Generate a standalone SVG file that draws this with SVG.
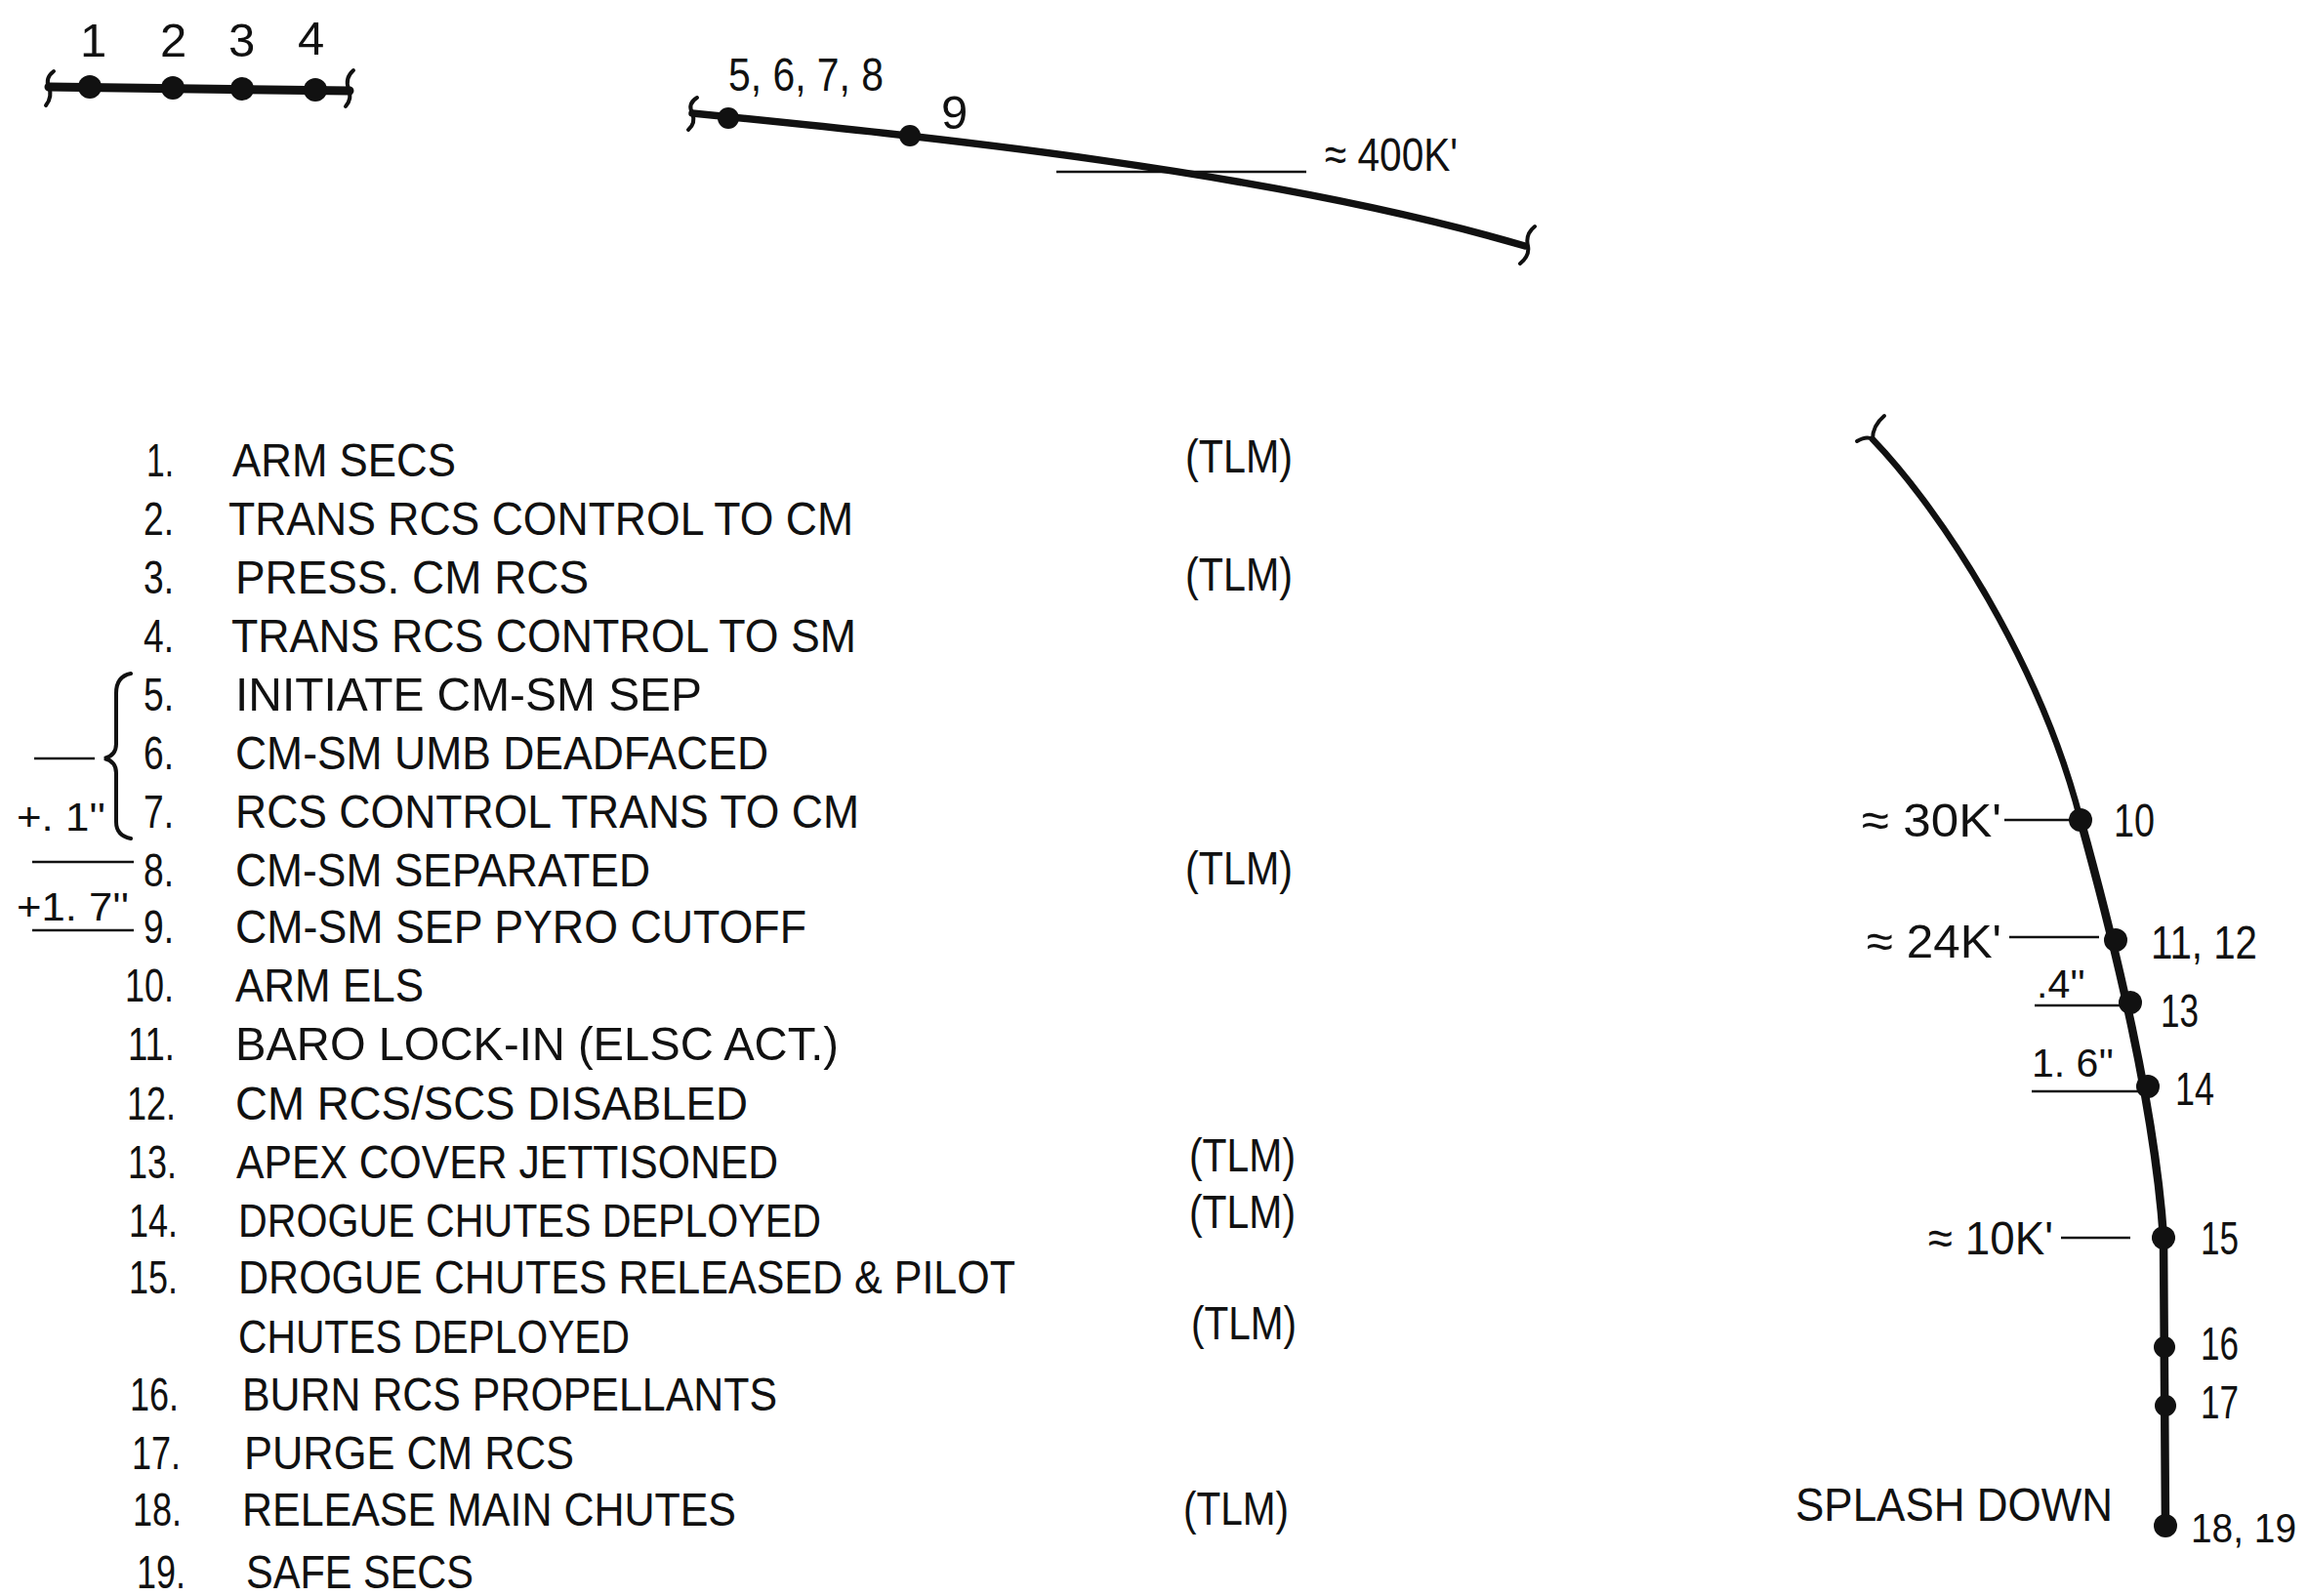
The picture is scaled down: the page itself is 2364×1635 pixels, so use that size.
<svg xmlns="http://www.w3.org/2000/svg" width="2364" height="1635" viewBox="0 0 2364 1635">
<defs>
<style>
.t{font-family:"Liberation Sans",Arial,sans-serif;font-size:49px;fill:#111}
.n{font-family:"Liberation Sans",Arial,sans-serif;font-size:49px;fill:#111;text-anchor:end}
.s{font-family:"Liberation Sans",Arial,sans-serif;font-size:49px;fill:#111}
.m{font-family:"Liberation Sans",Arial,sans-serif;font-size:41px;fill:#111}
.traj{fill:none;stroke:#111;stroke-linecap:round;stroke-linejoin:round}
.thin{fill:none;stroke:#111;stroke-width:2.5}
.brk{fill:none;stroke:#111;stroke-width:4;stroke-linecap:round}
.dot{fill:#111}
</style>
</defs>
<rect width="2364" height="1635" fill="#fff"/>

<g id="connectors">
  <!-- top-left scale -->
  <path class="traj" stroke-width="9" d="M50 89 L358 93"/>
  <path class="brk" d="M55 73 Q46 80 50 89 Q54 99 47 108"/>
  <path class="brk" d="M362 72 Q353 80 357 91 Q361 101 354 109"/>
  <!-- top arc -->
  <path class="traj" stroke-width="7.5" d="M709 116 C 950 140, 1300 175, 1562 252"/>
  <path class="brk" d="M714 100 Q704 106 709 116 Q713 126 705 133"/>
  <path class="brk" d="M1572 232 Q1562 240 1565 252 Q1567 262 1557 270"/>
  <line class="thin" x1="1082" y1="176" x2="1338" y2="176"/>
  <!-- right descent -->
  <path class="traj" stroke-width="6.5" d="M1918 450 C 1990 525, 2090 680, 2131 840"/>
  <path class="traj" stroke-width="8.5" d="M2131 840 C 2156 930, 2206 1120, 2216 1268 L 2218 1563"/>
  <path class="brk" d="M1902 452 Q1912 446 1918 450 Q1918 436 1930 426"/>
  <line class="thin" x1="2053" y1="840" x2="2123" y2="840"/>
  <line class="thin" x1="2058" y1="960" x2="2150" y2="960"/>
  <line class="thin" x1="2084" y1="1030" x2="2171" y2="1030"/>
  <line class="thin" x1="2081" y1="1118" x2="2190" y2="1118"/>
  <line class="thin" x1="2111" y1="1268" x2="2182" y2="1268"/>
  <!-- list margin marks -->
  <line class="thin" x1="35" y1="777" x2="97" y2="777"/>
  <path fill="none" stroke="#111" stroke-width="4" stroke-linecap="round" d="M134 690 Q119 693 119 710 L119 762 Q119 774 107 777 Q119 780 119 792 L119 842 Q119 856 134 859"/>
  <line class="thin" x1="33" y1="883" x2="137" y2="883"/>
  <line class="thin" x1="33" y1="953" x2="137" y2="953"/>
</g>

<g id="scale-1-4">
  <circle class="dot" cx="92" cy="89" r="12"/>
  <circle class="dot" cx="177" cy="90" r="12"/>
  <circle class="dot" cx="248" cy="91" r="12"/>
  <circle class="dot" cx="323" cy="92" r="12"/>
  <text class="t" x="82" y="58">1</text>
  <text class="t" x="164" y="58">2</text>
  <text class="t" x="234" y="58">3</text>
  <text class="t" x="305" y="56">4</text>
</g>

<g id="arc-5-9">
  <circle class="dot" cx="746" cy="121" r="11"/>
  <circle class="dot" cx="932" cy="139" r="11"/>
  <text class="t" x="746" y="93" textLength="159" lengthAdjust="spacingAndGlyphs">5, 6, 7, 8</text>
  <text class="t" x="964" y="132">9</text>
  <text class="s" x="1357" y="175" textLength="136" lengthAdjust="spacingAndGlyphs">≈ 400K'</text>
</g>

<g id="descent-10-19">
  <circle class="dot" cx="2131" cy="840" r="12"/>
  <circle class="dot" cx="2167" cy="963" r="12"/>
  <circle class="dot" cx="2182" cy="1027" r="12"/>
  <circle class="dot" cx="2200" cy="1113" r="12"/>
  <circle class="dot" cx="2216" cy="1268" r="12"/>
  <circle class="dot" cx="2217" cy="1380" r="11"/>
  <circle class="dot" cx="2218" cy="1440" r="11"/>
  <circle class="dot" cx="2218" cy="1563" r="12"/>
  <text class="s" x="1907" y="857" textLength="143" lengthAdjust="spacingAndGlyphs">≈ 30K'</text>
  <text class="s" x="2165" y="857" textLength="42" lengthAdjust="spacingAndGlyphs">10</text>
  <text class="s" x="1912" y="981" textLength="138" lengthAdjust="spacingAndGlyphs">≈ 24K'</text>
  <text class="s" x="2203" y="982" textLength="109" lengthAdjust="spacingAndGlyphs">11, 12</text>
  <text class="m" x="2086" y="1022">.4''</text>
  <text class="s" x="2213" y="1052" textLength="39" lengthAdjust="spacingAndGlyphs">13</text>
  <text class="m" x="2081" y="1103">1. 6''</text>
  <text class="s" x="2228" y="1132" textLength="40" lengthAdjust="spacingAndGlyphs">14</text>
  <text class="s" x="1975" y="1285" textLength="128" lengthAdjust="spacingAndGlyphs">≈ 10K'</text>
  <text class="s" x="2254" y="1285" textLength="39" lengthAdjust="spacingAndGlyphs">15</text>
  <text class="s" x="2254" y="1393" textLength="39" lengthAdjust="spacingAndGlyphs">16</text>
  <text class="s" x="2254" y="1453" textLength="39" lengthAdjust="spacingAndGlyphs">17</text>
  <text class="s" x="1839" y="1558" textLength="325" lengthAdjust="spacingAndGlyphs">SPLASH DOWN</text>
  <text class="s" style="font-size:42px" x="2244" y="1580" textLength="108" lengthAdjust="spacingAndGlyphs">18, 19</text>
</g>

<g id="margin-notes">
  <text class="m" x="17" y="851" textLength="91" lengthAdjust="spacingAndGlyphs">+. 1''</text>
  <text class="m" x="17" y="943" textLength="115" lengthAdjust="spacingAndGlyphs">+1. 7''</text>
</g>

<g id="event-list">
  <text class="n" x="178" y="488" textLength="28" lengthAdjust="spacingAndGlyphs">1.</text><text class="t" x="238" y="488" textLength="229" lengthAdjust="spacingAndGlyphs">ARM SECS</text>
  <text class="n" x="178" y="548" textLength="31" lengthAdjust="spacingAndGlyphs">2.</text><text class="t" x="234" y="548" textLength="640" lengthAdjust="spacingAndGlyphs">TRANS RCS CONTROL TO CM</text>
  <text class="n" x="178" y="608" textLength="31" lengthAdjust="spacingAndGlyphs">3.</text><text class="t" x="241" y="608" textLength="362" lengthAdjust="spacingAndGlyphs">PRESS. CM RCS</text>
  <text class="n" x="178" y="668" textLength="31" lengthAdjust="spacingAndGlyphs">4.</text><text class="t" x="237" y="668" textLength="640" lengthAdjust="spacingAndGlyphs">TRANS RCS CONTROL TO SM</text>
  <text class="n" x="178" y="728" textLength="31" lengthAdjust="spacingAndGlyphs">5.</text><text class="t" x="241" y="728" textLength="478" lengthAdjust="spacingAndGlyphs">INITIATE CM-SM SEP</text>
  <text class="n" x="178" y="788" textLength="31" lengthAdjust="spacingAndGlyphs">6.</text><text class="t" x="241" y="788" textLength="546" lengthAdjust="spacingAndGlyphs">CM-SM UMB DEADFACED</text>
  <text class="n" x="178" y="848" textLength="31" lengthAdjust="spacingAndGlyphs">7.</text><text class="t" x="241" y="848" textLength="639" lengthAdjust="spacingAndGlyphs">RCS CONTROL TRANS TO CM</text>
  <text class="n" x="178" y="908" textLength="31" lengthAdjust="spacingAndGlyphs">8.</text><text class="t" x="241" y="908" textLength="425" lengthAdjust="spacingAndGlyphs">CM-SM SEPARATED</text>
  <text class="n" x="178" y="966" textLength="31" lengthAdjust="spacingAndGlyphs">9.</text><text class="t" x="241" y="966" textLength="585" lengthAdjust="spacingAndGlyphs">CM-SM SEP PYRO CUTOFF</text>
  <text class="n" x="178" y="1026" textLength="50" lengthAdjust="spacingAndGlyphs">10.</text><text class="t" x="241" y="1026" textLength="193" lengthAdjust="spacingAndGlyphs">ARM ELS</text>
  <text class="n" x="179" y="1086" textLength="48" lengthAdjust="spacingAndGlyphs">11.</text><text class="t" x="241" y="1086" textLength="618" lengthAdjust="spacingAndGlyphs">BARO LOCK-IN (ELSC ACT.)</text>
  <text class="n" x="180" y="1147" textLength="50" lengthAdjust="spacingAndGlyphs">12.</text><text class="t" x="241" y="1147" textLength="525" lengthAdjust="spacingAndGlyphs">CM RCS/SCS DISABLED</text>
  <text class="n" x="181" y="1207" textLength="50" lengthAdjust="spacingAndGlyphs">13.</text><text class="t" x="242" y="1207" textLength="555" lengthAdjust="spacingAndGlyphs">APEX COVER JETTISONED</text>
  <text class="n" x="182" y="1267" textLength="50" lengthAdjust="spacingAndGlyphs">14.</text><text class="t" x="244" y="1267" textLength="597" lengthAdjust="spacingAndGlyphs">DROGUE CHUTES DEPLOYED</text>
  <text class="n" x="182" y="1325" textLength="50" lengthAdjust="spacingAndGlyphs">15.</text><text class="t" x="244" y="1325" textLength="796" lengthAdjust="spacingAndGlyphs">DROGUE CHUTES RELEASED &amp; PILOT</text>
  <text class="t" x="244" y="1386" textLength="401" lengthAdjust="spacingAndGlyphs">CHUTES DEPLOYED</text>
  <text class="n" x="183" y="1445" textLength="50" lengthAdjust="spacingAndGlyphs">16.</text><text class="t" x="248" y="1445" textLength="548" lengthAdjust="spacingAndGlyphs">BURN RCS PROPELLANTS</text>
  <text class="n" x="185" y="1505" textLength="50" lengthAdjust="spacingAndGlyphs">17.</text><text class="t" x="250" y="1505" textLength="338" lengthAdjust="spacingAndGlyphs">PURGE CM RCS</text>
  <text class="n" x="186" y="1563" textLength="50" lengthAdjust="spacingAndGlyphs">18.</text><text class="t" x="248" y="1563" textLength="506" lengthAdjust="spacingAndGlyphs">RELEASE MAIN CHUTES</text>
  <text class="n" x="190" y="1627" textLength="50" lengthAdjust="spacingAndGlyphs">19.</text><text class="t" x="252" y="1627" textLength="233" lengthAdjust="spacingAndGlyphs">SAFE SECS</text>
</g>

<g id="tlm-flags">
  <text class="t" x="1214" y="484" textLength="110" lengthAdjust="spacingAndGlyphs">(TLM)</text>
  <text class="t" x="1214" y="605" textLength="110" lengthAdjust="spacingAndGlyphs">(TLM)</text>
  <text class="t" x="1214" y="906" textLength="110" lengthAdjust="spacingAndGlyphs">(TLM)</text>
  <text class="t" x="1218" y="1200" textLength="109" lengthAdjust="spacingAndGlyphs">(TLM)</text>
  <text class="t" x="1218" y="1258" textLength="109" lengthAdjust="spacingAndGlyphs">(TLM)</text>
  <text class="t" x="1220" y="1372" textLength="108" lengthAdjust="spacingAndGlyphs">(TLM)</text>
  <text class="t" x="1212" y="1562" textLength="108" lengthAdjust="spacingAndGlyphs">(TLM)</text>
</g>
</svg>
